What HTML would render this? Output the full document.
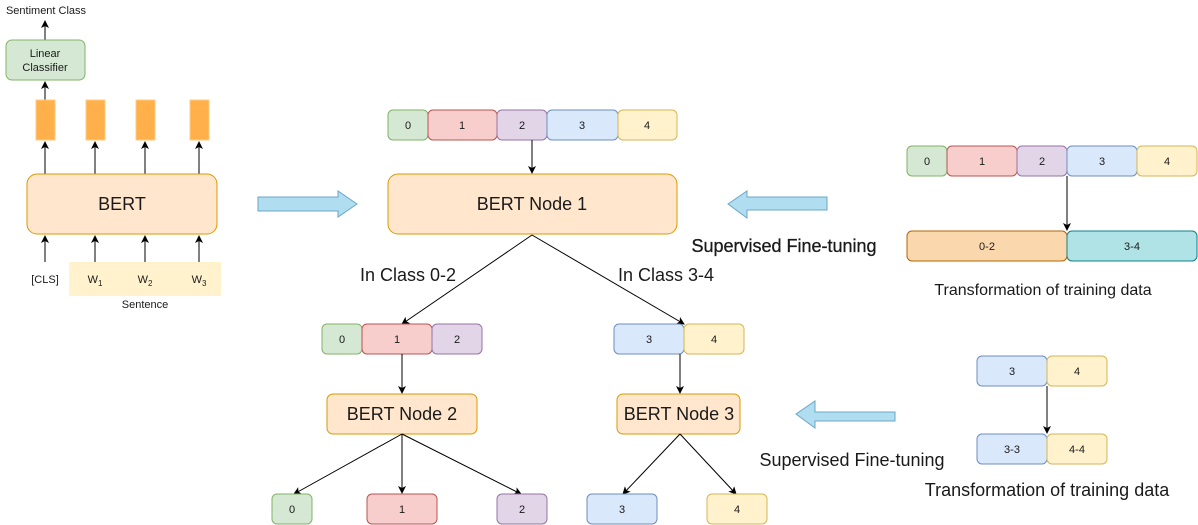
<!DOCTYPE html>
<html><head><meta charset="utf-8"><style>
html,body{margin:0;padding:0;background:#fff;}
svg{display:block;}
text{font-family:"Liberation Sans",Arial,sans-serif;fill:#1a1a1a;}
</style></head><body>
<svg width="1198" height="525" viewBox="0 0 1198 525" xmlns="http://www.w3.org/2000/svg">
<defs>
<marker id="a" markerWidth="8" markerHeight="8" refX="7" refY="4" orient="auto" markerUnits="userSpaceOnUse">
<path d="M0,0 L8,4 L0,8 L2,4 Z" fill="#000"/></marker>
</defs>
<g font-size="11" text-anchor="middle">
<!-- left panel -->
<text x="46" y="14" font-size="11">Sentiment Class</text>
<line x1="45" y1="40" x2="45" y2="21" stroke="#000" marker-end="url(#a)"/>
<rect x="6" y="40" width="79" height="40" rx="6" fill="#d5e8d4" stroke="#82b366"/>
<text x="45" y="57">Linear</text><text x="45" y="71">Classifier</text>
<line x1="45" y1="100" x2="45" y2="82" stroke="#000" marker-end="url(#a)"/>
<rect x="36" y="100" width="19" height="40" fill="#ffb04a" stroke="#ffcc80"/>
<rect x="86" y="100" width="19" height="40" fill="#ffb04a" stroke="#ffcc80"/>
<rect x="136" y="100" width="19" height="40" fill="#ffb04a" stroke="#ffcc80"/>
<rect x="190" y="100" width="19" height="40" fill="#ffb04a" stroke="#ffcc80"/>
<line x1="45" y1="174" x2="45" y2="142" stroke="#000" marker-end="url(#a)"/>
<line x1="95" y1="174" x2="95" y2="142" stroke="#000" marker-end="url(#a)"/>
<line x1="145" y1="174" x2="145" y2="142" stroke="#000" marker-end="url(#a)"/>
<line x1="199" y1="174" x2="199" y2="142" stroke="#000" marker-end="url(#a)"/>
<rect x="27" y="174" width="190" height="60" rx="10" fill="#ffe6cc" stroke="#d79b00"/>
<text x="122" y="210" font-size="18">BERT</text>
<rect x="69" y="262" width="152" height="34" fill="#fff2cc"/>
<line x1="45" y1="262" x2="45" y2="236" stroke="#000" marker-end="url(#a)"/>
<line x1="95" y1="262" x2="95" y2="236" stroke="#000" marker-end="url(#a)"/>
<line x1="145" y1="262" x2="145" y2="236" stroke="#000" marker-end="url(#a)"/>
<line x1="199" y1="262" x2="199" y2="236" stroke="#000" marker-end="url(#a)"/>
<text x="45" y="283">[CLS]</text>
<text x="95" y="283">W<tspan font-size="8" dy="3">1</tspan></text>
<text x="145" y="283">W<tspan font-size="8" dy="3">2</tspan></text>
<text x="199" y="283">W<tspan font-size="8" dy="3">3</tspan></text>
<text x="145" y="308">Sentence</text>

<path d="M258,197 H338 V191 L357,204 L338,217 V211 H258 Z" fill="#b1ddf0" stroke="#6aa8c8"/>

<!-- center -->
<rect x="388" y="110" width="40" height="30" rx="5" fill="#d5e8d4" stroke="#82b366"/><text x="408" y="129">0</text>
<rect x="428" y="110" width="69" height="30" rx="5" fill="#f8cecc" stroke="#b85450"/><text x="462" y="129">1</text>
<rect x="497" y="110" width="50" height="30" rx="5" fill="#e1d5e7" stroke="#9673a6"/><text x="522" y="129">2</text>
<rect x="547" y="110" width="71" height="30" rx="5" fill="#dae8fc" stroke="#6c8ebf"/><text x="582" y="129">3</text>
<rect x="618" y="110" width="59" height="30" rx="5" fill="#fff2cc" stroke="#d6b656"/><text x="647" y="129">4</text>
<line x1="532" y1="140" x2="532" y2="173" stroke="#000" marker-end="url(#a)"/>
<rect x="388" y="174" width="289" height="60" rx="10" fill="#ffe6cc" stroke="#d79b00"/>
<text x="532" y="210" font-size="18">BERT Node 1</text>
<line x1="532" y1="235" x2="402" y2="324" stroke="#000" marker-end="url(#a)"/>
<line x1="532" y1="235" x2="684" y2="324" stroke="#000" marker-end="url(#a)"/>
<text x="408" y="281" font-size="18">In Class 0-2</text>
<text x="666" y="281" font-size="18">In Class 3-4</text>

<rect x="322" y="324" width="40" height="30" rx="5" fill="#d5e8d4" stroke="#82b366"/><text x="342" y="343">0</text>
<rect x="362" y="324" width="70" height="30" rx="5" fill="#f8cecc" stroke="#b85450"/><text x="397" y="343">1</text>
<rect x="432" y="324" width="50" height="30" rx="5" fill="#e1d5e7" stroke="#9673a6"/><text x="457" y="343">2</text>
<rect x="614" y="324" width="70" height="30" rx="5" fill="#dae8fc" stroke="#6c8ebf"/><text x="649" y="343">3</text>
<rect x="684" y="324" width="60" height="30" rx="5" fill="#fff2cc" stroke="#d6b656"/><text x="714" y="343">4</text>
<line x1="402" y1="354" x2="402" y2="393" stroke="#000" marker-end="url(#a)"/>
<line x1="680" y1="354" x2="680" y2="393" stroke="#000" marker-end="url(#a)"/>
<rect x="327" y="394" width="150" height="40" rx="6" fill="#ffe6cc" stroke="#d79b00"/>
<text x="402" y="420" font-size="18">BERT Node 2</text>
<rect x="617" y="394" width="123" height="40" rx="6" fill="#ffe6cc" stroke="#d79b00"/>
<text x="679" y="420" font-size="18">BERT Node 3</text>
<line x1="402" y1="434" x2="294" y2="494" stroke="#000" marker-end="url(#a)"/>
<line x1="402" y1="434" x2="402" y2="493" stroke="#000" marker-end="url(#a)"/>
<line x1="402" y1="434" x2="521" y2="494" stroke="#000" marker-end="url(#a)"/>
<line x1="680" y1="434" x2="623" y2="494" stroke="#000" marker-end="url(#a)"/>
<line x1="680" y1="434" x2="736" y2="494" stroke="#000" marker-end="url(#a)"/>
<rect x="272" y="494" width="40" height="30" rx="5" fill="#d5e8d4" stroke="#82b366"/><text x="292" y="513">0</text>
<rect x="367" y="494" width="70" height="30" rx="5" fill="#f8cecc" stroke="#b85450"/><text x="402" y="513">1</text>
<rect x="497" y="494" width="50" height="30" rx="5" fill="#e1d5e7" stroke="#9673a6"/><text x="522" y="513">2</text>
<rect x="587" y="494" width="70" height="30" rx="5" fill="#dae8fc" stroke="#6c8ebf"/><text x="622" y="513">3</text>
<rect x="707" y="494" width="60" height="30" rx="5" fill="#fff2cc" stroke="#d6b656"/><text x="737" y="513">4</text>

<!-- right top -->
<path d="M827,197 H747 V191 L728,204 L747,218 V210 H827 Z" fill="#b1ddf0" stroke="#6aa8c8"/>
<text x="784" y="252" font-size="18" stroke="#1a1a1a" stroke-width="0.3">Supervised Fine-tuning</text>
<rect x="907" y="146" width="40" height="30" rx="5" fill="#d5e8d4" stroke="#82b366"/><text x="927" y="165">0</text>
<rect x="947" y="146" width="70" height="30" rx="5" fill="#f8cecc" stroke="#b85450"/><text x="982" y="165">1</text>
<rect x="1017" y="146" width="50" height="30" rx="5" fill="#e1d5e7" stroke="#9673a6"/><text x="1042" y="165">2</text>
<rect x="1067" y="146" width="70" height="30" rx="5" fill="#dae8fc" stroke="#6c8ebf"/><text x="1102" y="165">3</text>
<rect x="1137" y="146" width="60" height="30" rx="5" fill="#fff2cc" stroke="#d6b656"/><text x="1167" y="165">4</text>
<line x1="1067" y1="176" x2="1067" y2="230" stroke="#000" marker-end="url(#a)"/>
<rect x="907" y="231" width="160" height="30" rx="5" fill="#fad7ac" stroke="#b46504"/><text x="987" y="250">0-2</text>
<rect x="1067" y="231" width="130" height="30" rx="5" fill="#b0e3e6" stroke="#0e8088"/><text x="1132" y="250">3-4</text>
<text x="1043" y="295" font-size="16">Transformation of training data</text>

<!-- right bottom -->
<path d="M895,412 H815 V401 L796,414 L815,428 V421 H895 Z" fill="#b1ddf0" stroke="#6aa8c8"/>
<text x="852" y="466" font-size="18">Supervised Fine-tuning</text>
<rect x="977" y="356" width="70" height="30" rx="5" fill="#dae8fc" stroke="#6c8ebf"/><text x="1012" y="375">3</text>
<rect x="1047" y="356" width="60" height="30" rx="5" fill="#fff2cc" stroke="#d6b656"/><text x="1077" y="375">4</text>
<line x1="1047" y1="386" x2="1047" y2="433" stroke="#000" marker-end="url(#a)"/>
<rect x="977" y="434" width="70" height="30" rx="5" fill="#dae8fc" stroke="#6c8ebf"/><text x="1012" y="453">3-3</text>
<rect x="1047" y="434" width="60" height="30" rx="5" fill="#fff2cc" stroke="#d6b656"/><text x="1077" y="453">4-4</text>
<text x="1047" y="496" font-size="18">Transformation of training data</text>
</g>
</svg>
</body></html>
